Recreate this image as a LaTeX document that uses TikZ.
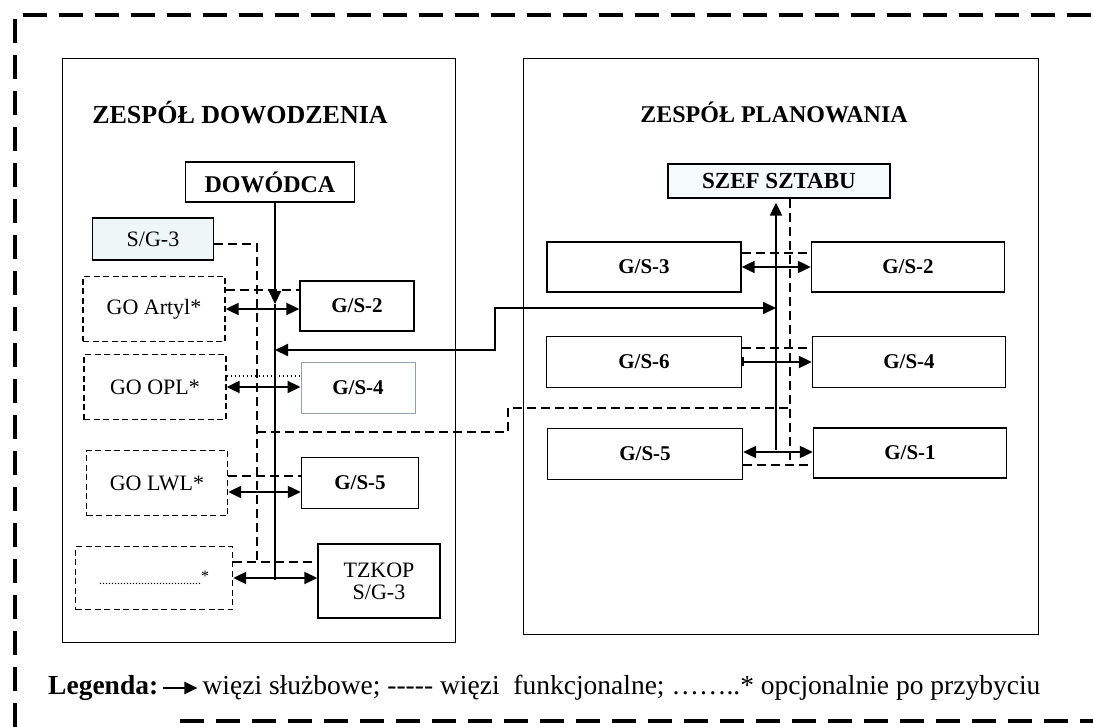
\documentclass[tikz,border=0pt]{standalone}
\usepackage{fontspec}
\setmainfont{Liberation Serif}
\usetikzlibrary{positioning,calc,arrows.meta}
\definecolor{paleblue}{HTML}{EEF6F8}
\definecolor{greyline}{HTML}{8FA3AE}

\tikzset{
  panel/.style={draw,line width=0.9pt},
  cell/.style={draw,line width=1.4pt,inner sep=0pt,font=\bfseries\fontsize{21}{23}\selectfont},
  optcell/.style={draw,line width=1.4pt,dash pattern=on 6pt off 3.5pt,inner sep=0pt,font=\fontsize{22}{24}\selectfont},
  serv/.style={line width=2.2pt,-{Triangle[length=13pt,width=12pt]}},
  servboth/.style={line width=2.2pt,{Triangle[length=13pt,width=12pt]}-{Triangle[length=13pt,width=12pt]}},
  func/.style={line width=1.8pt,dash pattern=on 9pt off 5pt},
  frame/.style={line width=3.5pt,dash pattern=on 24pt off 12pt},
  legend/.style={inner sep=0pt,font=\fontsize{27.5}{29}\selectfont}
}

\begin{document}
\begin{tikzpicture}[x=1pt,y=-1pt]
\useasboundingbox (0,0) rectangle (1093,727);
\draw[frame] (15,727) -- (15,15) -- (1110,15);
\draw[frame] (180,721) -- (1110,721);

% zespol dowodzenia
\draw[panel] (62,58) rectangle (455,642);
\node[font=\bfseries\fontsize{26}{28}\selectfont] (dtitle) at (240,113) {ZESPÓŁ DOWODZENIA};
\node[cell,font=\bfseries\fontsize{24}{26}\selectfont,minimum width=169pt,minimum height=40pt] (dow) at (270,182) {DOWÓDCA};
\node[cell,font=\fontsize{22}{24}\selectfont,fill=paleblue,minimum width=121pt,minimum height=42pt] (sg3) at (153,239) {S/G-3};
\node[optcell,minimum width=142pt,minimum height=65pt] (art) at (154,309) {GO Artyl*};
\node[cell,minimum width=114pt,minimum height=50pt] (d-gs2) at (357,306) {G/S-2};
\node[optcell,minimum width=142pt,minimum height=65pt] (opl) at (155,387) {GO OPL*};
\node[cell,draw=greyline,line width=1pt,minimum width=114pt,minimum height=51pt] (d-gs4) at (358,388) {G/S-4};
\node[optcell,minimum width=141pt,minimum height=65pt] (lwl) at (157,483) {GO LWL*};
\node[cell,minimum width=117pt,minimum height=51pt] (d-gs5) at (360,483) {G/S-5};
\node[optcell,minimum width=157pt,minimum height=63pt] (dots) at (154,578) {{\fontsize{12}{14}\selectfont ..................................}\raisebox{3pt}{\fontsize{16}{18}\selectfont *}};
\node[cell,font=\fontsize{22}{24}\selectfont,align=center,minimum width=122pt,minimum height=74pt] (tzk) at (379,581) {TZKOP\\[-2pt]S/G-3};

\coordinate (dhit) at (275,304);
\coordinate (dspine) at (275,580);
\draw[serv] (dow.south -| dhit) -- (dhit);
\draw[line width=2.2pt] (dhit) -- (dspine);
\draw[servboth] (art.east) -- (art.east -| d-gs2.west);
\draw[servboth] (opl.east) -- (opl.east -| d-gs4.west);
\draw[servboth] ([yshift=-9pt]lwl.east) -- ([yshift=-9pt]lwl.east -| d-gs5.west);
\draw[servboth] (dots.east) -- (dots.east -| tzk.west);

\draw[func] ([yshift=19pt]art.east) -- ([yshift=19pt]art.east -| d-gs2.west);
\draw[line width=1.3pt,dash pattern=on 1.5pt off 2.5pt] ([yshift=11pt]opl.east) -- ([yshift=11pt]opl.east -| d-gs4.west);
\draw[func] ([yshift=7pt]lwl.east) -- ([yshift=7pt]lwl.east -| d-gs5.west);
\draw[func] ([yshift=16pt]dots.east) -- ([yshift=16pt]dots.east -| tzk.west);
\coordinate (dtrunk) at (257,562);
\draw[func] ([yshift=-5pt]sg3.east) -| (dtrunk);

% zespol planowania
\draw[panel] (523,58) rectangle (1038,634);
\node[font=\bfseries\fontsize{24}{26}\selectfont] (ptitle) at (774,112) {ZESPÓŁ PLANOWANIA};
\node[cell,font=\bfseries\fontsize{23}{25}\selectfont,fill=paleblue!60,minimum width=222pt,minimum height=34pt] (szef) at (779,181) {SZEF SZTABU};
\node[cell,minimum width=194pt,minimum height=50pt] (p-gs3) at (644,267) {G/S-3};
\node[cell,minimum width=193pt,minimum height=50pt] (p-gs2) at (908,267) {G/S-2};
\node[cell,minimum width=195pt,minimum height=51pt] (p-gs6) at (644,362) {G/S-6};
\node[cell,minimum width=193pt,minimum height=51pt] (p-gs4) at (909,362) {G/S-4};
\node[cell,minimum width=195pt,minimum height=51pt] (p-gs5) at (645,454) {G/S-5};
\node[cell,minimum width=193pt,minimum height=50pt] (p-gs1) at (910,453) {G/S-1};

\coordinate (pspine) at (776,450);
\coordinate (pfunc) at (790,465);
\draw[serv,shorten >=4pt] (pspine) -- (pspine |- szef.south);
\draw[func] (szef.south -| pfunc) -- (pfunc);
\draw[servboth] (p-gs3.east) -- (p-gs3.east -| p-gs2.west);
\draw[line width=2.2pt,{Bar[width=9pt]}-{Triangle[length=13pt,width=12pt]}] (p-gs6.east) -- (p-gs6.east -| p-gs4.west);
\draw[servboth] ([yshift=2pt]p-gs5.east) -- ([yshift=2pt]p-gs5.east -| p-gs1.west);
\draw[func] ([yshift=14pt]p-gs3.east) -- ([yshift=14pt]p-gs3.east -| p-gs2.west);
\draw[func] ([yshift=14pt]p-gs6.east) -- ([yshift=14pt]p-gs6.east -| p-gs4.west);
\draw[func] ([yshift=-11pt]p-gs5.east) -- ([yshift=-11pt]p-gs5.east -| p-gs1.west);

% links between the teams
\coordinate (dhit2) at (275,350);
\coordinate (phit) at (776,308);
\draw[servboth] (dhit2) -- ++(220,0) |- (phit);
\coordinate (fj1) at (257,432);
\coordinate (fj2) at (790,408);
\draw[func] (fj1) -- ++(251,0) |- (fj2);

% legenda
\node[legend,anchor=west] (leg) at (48,688) {\bfseries Legenda:};
\node[legend,right=44pt of leg] (legtxt) {więzi służbowe; -{}-{}-{}-{}- więzi\ \ funkcjonalne; ……..* opcjonalnie po przybyciu};
\draw[serv] ([xshift=5pt]leg.east) -- ([xshift=-5pt]legtxt.west);
\end{tikzpicture}
\end{document}
